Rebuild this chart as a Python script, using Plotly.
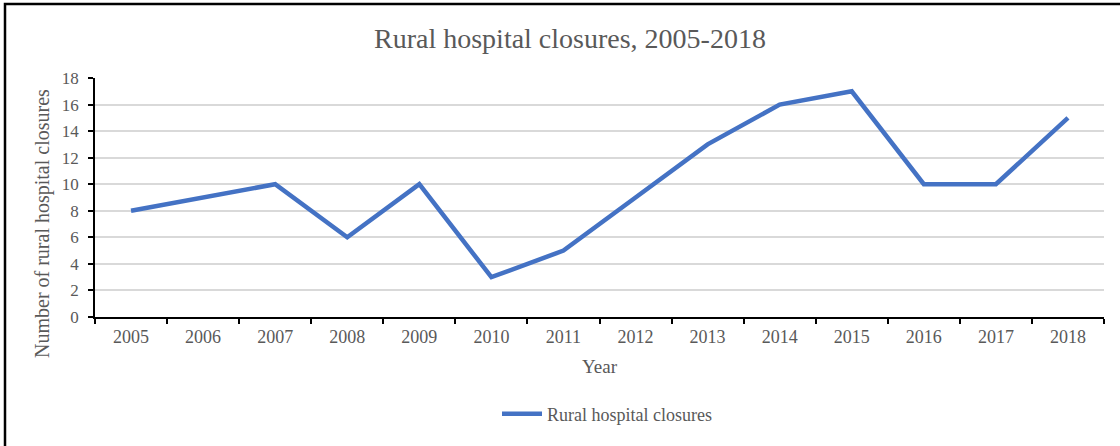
import plotly.graph_objects as go

years = ["2005", "2006", "2007", "2008", "2009", "2010", "2011",
         "2012", "2013", "2014", "2015", "2016", "2017", "2018"]
closures = [8, 9, 10, 6, 10, 3, 5, 9, 13, 16, 17, 10, 10, 15]
y_ticks = [0, 2, 4, 6, 8, 10, 12, 14, 16, 18]

FONT = "Liberation Serif, Times New Roman, serif"
GREY = "#595959"

W, H = 1120, 446
L, R, T, B = 95, 16, 78, 129
pw, ph = W - L - R, H - T - B

def px_x(p):
    return (p - L) / pw

def px_y(p):
    return (H - B - p) / ph

fig = go.Figure()
fig.add_trace(go.Scatter(
    x=years, y=closures, mode="lines", name="Rural hospital closures",
    line=dict(color="#4472C4", width=4.5),
))

fig.update_layout(
    width=W, height=H,
    margin=dict(l=L, r=R, t=T, b=B),
    paper_bgcolor="white", plot_bgcolor="white",
    font=dict(family=FONT, color=GREY, size=17),
    showlegend=True,
    legend=dict(orientation="h", x=px_x(607), xanchor="center", y=px_y(414), yanchor="middle",
                font=dict(size=18, color=GREY, family=FONT), itemwidth=40),
    xaxis=dict(
        type="category", tickson="boundaries", ticks="outside", ticklen=5,
        tickcolor="black", tickwidth=1.5, showline=True, linecolor="black", linewidth=1.5,
        showgrid=False, tickfont=dict(size=18, color=GREY), ticklabelstandoff=3,
        range=[-0.5, len(years) - 0.5], fixedrange=True,
    ),
    yaxis=dict(
        range=[0, 18], tickvals=y_ticks, ticks="outside", ticklen=5, tickcolor="black",
        tickwidth=1.5, showline=True, linecolor="black", linewidth=1.5,
        showgrid=True, gridcolor="#d9d9d9", gridwidth=1.5, zeroline=False,
        tickfont=dict(size=17, color=GREY), ticklabelstandoff=6, fixedrange=True,
    ),
    annotations=[
        dict(text="Rural hospital closures, 2005-2018", x=px_x(570), y=px_y(39),
             xref="paper", yref="paper", showarrow=False, xanchor="center", yanchor="middle",
             font=dict(size=28, color=GREY, family=FONT)),
        dict(text="Year", x=px_x(600), y=px_y(366), xref="paper", yref="paper",
             showarrow=False, xanchor="center", yanchor="middle",
             font=dict(size=19, color=GREY, family=FONT)),
        dict(text="Number of rural hospital closures", x=px_x(43), y=px_y(224),
             xref="paper", yref="paper", showarrow=False, textangle=-90,
             xanchor="center", yanchor="middle",
             font=dict(size=20, color=GREY, family=FONT)),
    ],
    shapes=[
        dict(type="rect", xref="paper", yref="paper",
             x0=px_x(5), x1=px_x(1130), y0=px_y(4), y1=px_y(460),
             line=dict(color="black", width=2.5), fillcolor="rgba(0,0,0,0)", layer="below"),
    ],
)

fig.write_html("out.html", config={"displayModeBar": False},
               post_script="document.body.style.margin='0';")
